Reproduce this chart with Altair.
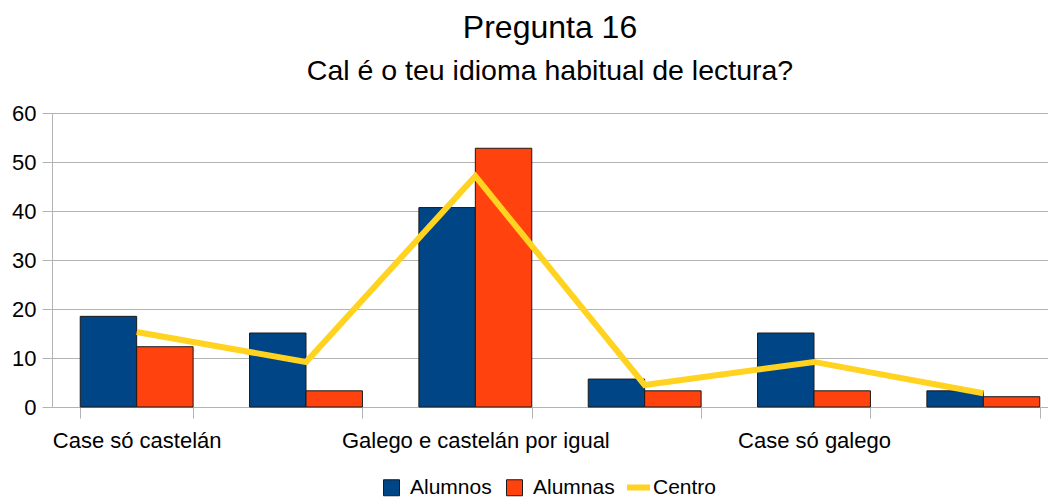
import altair as alt
import pandas as pd

categories = ["Case só castelán", "Máis castelán ca galego", "Galego e castelán por igual",
              "Máis galego ca castelán", "Case só galego", "Outros"]
shown_labels = ["Case só castelán", "Galego e castelán por igual", "Case só galego"]
series_names = ["Alumnos", "Alumnas"]
alumnos = [18.5, 15.1, 40.7, 5.7, 15.1, 3.3]
alumnas = [12.3, 3.3, 52.8, 3.3, 3.3, 2.1]
centro = [15.3, 9.2, 47.1, 4.5, 9.2, 2.8]
y_ticks = [0, 10, 20, 30, 40, 50, 60]

bars_df = pd.DataFrame(
    [{"categoria": c, "serie": "Alumnos", "valor": v} for c, v in zip(categories, alumnos)]
    + [{"categoria": c, "serie": "Alumnas", "valor": v} for c, v in zip(categories, alumnas)]
)
line_df = pd.DataFrame({"categoria": categories, "serie2": ["Centro"] * len(categories), "valor": centro})

FONT = "Liberation Sans"
GRID = "#b3b3b3"

label_list = "[" + ",".join("'" + s + "'" for s in shown_labels) + "]"

x_enc = alt.X(
    "categoria:N", sort=categories, title=None,
    scale=alt.Scale(range=[0, 1016], paddingInner=1 / 3, paddingOuter=1 / 6),
    axis=alt.Axis(
        labelExpr=f"indexof({label_list}, datum.value) >= 0 ? datum.value : ''",
        labelAngle=0, labelFontSize=22, labelColor="#000", labelFont=FONT,
        tickBand="extent", tickColor=GRID, tickSize=11, domainColor=GRID,
        labelPadding=12, grid=False, labelLimit=400,
    ),
)
y_enc = alt.Y(
    "valor:Q", title=None,
    scale=alt.Scale(domain=[0, 60], nice=False),
    axis=alt.Axis(values=y_ticks, labelFontSize=22, labelColor="#000", labelFont=FONT,
                  tickColor=GRID, tickSize=10, domainColor=GRID, gridColor=GRID,
                  labelPadding=6),
)

bars = alt.Chart(bars_df).mark_bar(stroke="#1a1a1a", strokeWidth=1).encode(
    x=x_enc,
    y=y_enc,
    xOffset=alt.XOffset("serie:N", sort=series_names),
    color=alt.Color(
        "serie:N",
        scale=alt.Scale(domain=series_names, range=["#004586", "#ff420e"]),
        legend=alt.Legend(
            title=None, orient="none", legendX=329, legendY=364, direction="horizontal",
            symbolType="square", symbolSize=256, symbolStrokeColor="#1a1a1a",
            symbolStrokeWidth=1, labelFontSize=21, labelFont=FONT, labelColor="#000",
            labelOffset=8, columnPadding=12, padding=0,
        ),
    ),
)

line = alt.Chart(line_df).mark_line(strokeWidth=6, strokeCap="butt", strokeJoin="miter").encode(
    x=alt.X("categoria:N", sort=categories),
    y=alt.Y("valor:Q"),
    stroke=alt.Stroke(
        "serie2:N",
        scale=alt.Scale(domain=["Centro"], range=["#ffd320"]),
        legend=alt.Legend(
            title=None, orient="none", legendX=572, legendY=360,
            symbolType="stroke", symbolSize=529, symbolStrokeWidth=6,
            labelFontSize=21, labelFont=FONT, labelColor="#000", labelOffset=0, padding=0,
        ),
    ),
)

chart = (
    alt.layer(bars, line)
    .properties(
        width=996, height=294,
        autosize=alt.AutoSizeParams(type="none"),
        padding={"left": 44, "top": 105, "right": 0, "bottom": 90},
        title=alt.Title(
            "Pregunta 16", subtitle="Cal é o teu idioma habitual de lectura?",
            anchor="middle", fontSize=32, subtitleFontSize=28.5, font=FONT, subtitleFont=FONT,
            fontWeight="normal", color="#000", subtitleColor="#000",
            offset=16, subtitlePadding=12,
        ),
    )
    .configure_view(stroke=None)
)

chart.save("out.html", embed_options={"renderer": "svg", "actions": False})
